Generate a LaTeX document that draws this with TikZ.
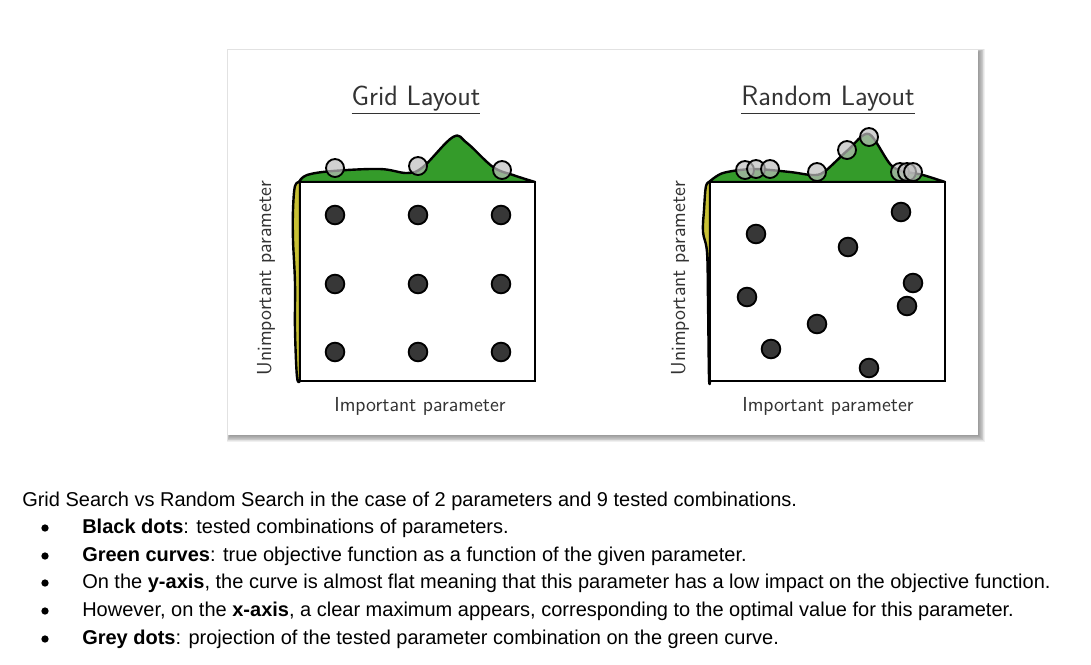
\documentclass[tikz,border=0pt]{standalone}
\usepackage{fontspec}
\newfontfamily\capfont{Liberation Sans}
\definecolor{grn}{RGB}{52,155,42}
\definecolor{ylw}{RGB}{200,192,52}
\definecolor{dotc}{RGB}{55,55,55}
\definecolor{greyd}{RGB}{190,190,190}
\tikzset{
  plotbox/.style={draw=black, line width=2.2pt, fill=white},
  curvefill/.style={draw=black, line width=1.8pt, line join=round},
  blackdot/.style={circle, draw=black, fill=dotc, line width=1.4pt, minimum size=14pt, inner sep=0pt},
  greydot/.style={circle, draw=black, fill=greyd, fill opacity=0.7, line width=1.4pt, minimum size=13.5pt, inner sep=0pt},
  ptitle/.style={font=\sffamily\fontsize{21}{24}\selectfont, text=black!80},
  axlab/.style={font=\sffamily\fontsize{15.2}{18}\selectfont, text=black!80},
  captext/.style={font=\capfont\fontsize{15}{18}\selectfont, anchor=west, inner sep=0pt},
  bullet/.style={circle, fill=black, minimum size=5.5pt, inner sep=0pt}
}
\begin{document}
\begin{tikzpicture}[x=0.75pt, y=-0.75pt]
\useasboundingbox (0,0) rectangle (1091,664);
% card shadow
\foreach \i in {1,...,8} {
  \fill[black, opacity=0.06] (228-\i*0.4+2,50-\i*0.4+2) rectangle (978+\i*0.9,435+\i*0.9);
}
\fill[white] (228,50) rectangle (978,435);

% ---------------- left plot ----------------
\node[ptitle] (t1) at (416,100) {\underline{Grid Layout}};
\draw[curvefill, fill=grn] plot[smooth, tension=0.6] coordinates {(299,182) (307,175) (333,171) (380,169) (407,173) (423,167) (453,137) (467,143) (493,167) (513,175) (535,182)} -- cycle;
\draw[curvefill, fill=ylw] plot[smooth, tension=0.6] coordinates {(300,182) (295,186) (293,210) (293,240) (295,283) (295,330) (297,377) (300,381)} -- cycle;
\draw[plotbox] (300,182) rectangle (535,381);
\foreach \n/\x/\y in {a/335/215, b/418/215, c/501/215, d/335/284, e/418/284, f/501/284, g/335/352, h/418/352, i/501/352}
  \node[blackdot] (L\n) at (\x,\y) {};
\foreach \n/\x/\y in {a/335/168, b/418/166, c/502/170}
  \node[greydot] (LG\n) at (\x,\y) {};
\node[axlab] (x1) at (420,406) {Important parameter};
\node[axlab, rotate=90] (y1) at (266,278) {Unimportant parameter};

% ---------------- right plot ----------------
\node[ptitle] (t2) at (828,100) {\underline{Random Layout}};
\draw[curvefill, fill=grn] plot[smooth, tension=0.5] coordinates {(709,182) (723,173) (753,169) (790,172) (812,175) (824,172) (848,150) (869,134) (893,167) (923,175) (945,182)} -- cycle;
\draw[curvefill, fill=ylw] plot[smooth, tension=0.6] coordinates {(710,182) (706,186) (704,210) (703,232) (707,252) (708,300) (709,377) (710,381)} -- cycle;
\draw[plotbox] (710,182) rectangle (945,381);
\foreach \n/\x/\y in {a/756/234, b/901/212, c/848/247, d/747/297, e/913/283, f/907/306, g/817/324, h/771/349, i/869/368}
  \node[blackdot] (R\n) at (\x,\y) {};
\foreach \n/\x/\y in {a/745/170, b/756/169, c/770/169, d/817/172, e/847/150, f/869/137, g/900/172, h/907/172, i/913/172}
  \node[greydot] (RG\n) at (\x,\y) {};
\node[axlab] (x2) at (828,406) {Important parameter};
\node[axlab, rotate=90] (y2) at (680,278) {Unimportant parameter};

% ---------------- caption ----------------
\node[captext] (c0) at (22,501) {Grid Search vs Random Search in the case of 2 parameters and 9 tested combinations.};
\foreach \n/\y/\t in {
  1/528/{\textbf{Black dots}: tested combinations of parameters.},
  2/556/{\textbf{Green curves}: true objective function as a function of the given parameter.},
  3/583/{On the \textbf{y-axis}, the curve is almost flat meaning that this parameter has a low impact on the objective function.},
  4/611/{However, on the \textbf{x-axis}, a clear maximum appears, corresponding to the optimal value for this parameter.},
  5/639/{\textbf{Grey dots}: projection of the tested parameter combination on the green curve.}} {
  \node[bullet] (b\n) at (45,\y) {};
  \node[captext] (c\n) at (82,\y) {\t};
}
\end{tikzpicture}
\end{document}
